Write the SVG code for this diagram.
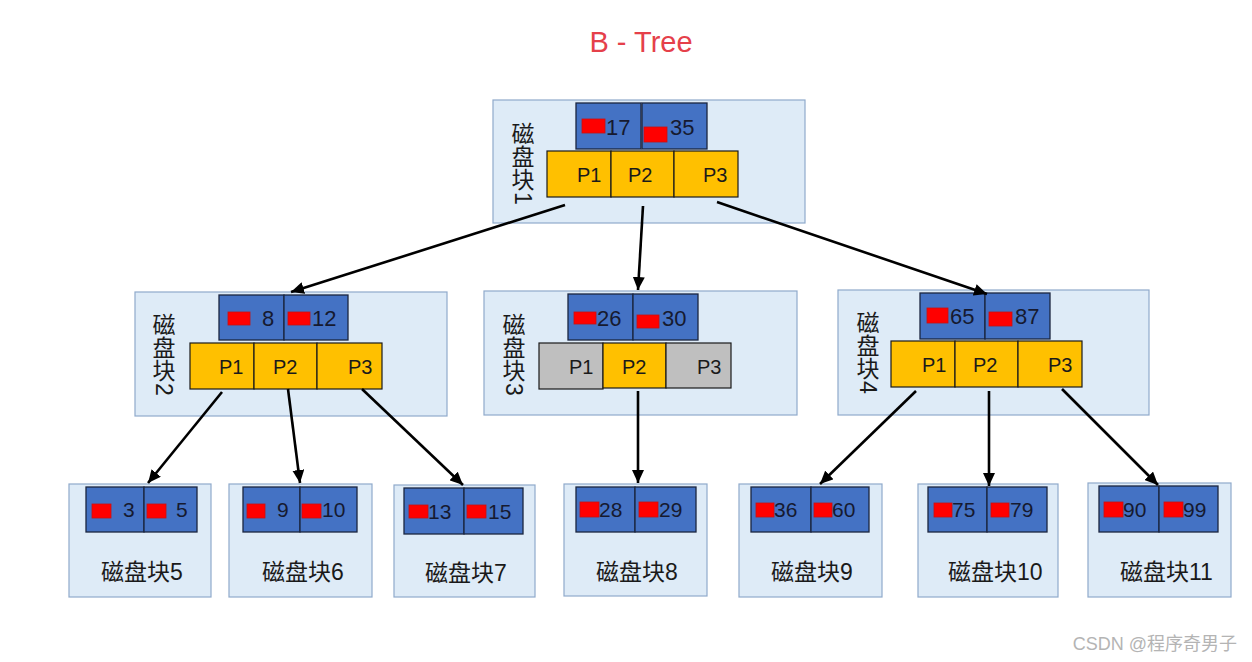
<svg xmlns="http://www.w3.org/2000/svg" width="1252" height="662" viewBox="0 0 1252 662">
<defs>
<style>
.blk{fill:#DEEBF7;stroke:#8FAACB;stroke-width:1.2}
.key{fill:#4472C4;stroke:#1B2540;stroke-width:1.3}
.ptr{fill:#FFC000;stroke:#1a1a1a;stroke-width:1.2}
.gry{fill:#BFBFBF;stroke:#1a1a1a;stroke-width:1.2}
.red{fill:#FF0000;stroke:#C81010;stroke-width:0.8}
.kt{font-family:"Liberation Sans","Noto Sans",sans-serif;font-size:22px;fill:#161a30}
.lt{font-family:"Liberation Sans","Noto Sans",sans-serif;font-size:21px;fill:#161a30}
.pt{font-family:"Liberation Sans","Noto Sans",sans-serif;font-size:20px;fill:#1a1a1a}
.lab{font-family:"Liberation Sans","Noto Sans CJK SC",sans-serif;font-size:23px;fill:#1a1a1a}
.vc{font-family:"Noto Sans CJK SC",sans-serif;font-size:23px;fill:#1a1a1a;writing-mode:vertical-rl}
.vd{font-family:"Liberation Sans",sans-serif;font-size:23px;fill:#1a1a1a;dominant-baseline:central}
.con{stroke:#000;stroke-width:2.6;fill:none;marker-end:url(#ah)}
</style>
<marker id="ah" markerUnits="userSpaceOnUse" markerWidth="14" markerHeight="12" viewBox="0 0 14 12" refX="13" refY="6" orient="auto">
<path d="M0,0 L13,6 L0,12 Z" fill="#000"/>
</marker>
</defs>
<rect width="1252" height="662" fill="#fff"/>
<text x="641" y="52" text-anchor="middle" font-family="Liberation Sans,Noto Sans,sans-serif" font-size="29" fill="#E5404A">B - Tree</text>

<g id="node1">
<rect class="blk" x="493" y="100" width="312" height="123"/>
<text class="vc" x="523" y="122">磁盘块</text>
<text class="vd" transform="translate(523,192) rotate(90)">1</text>
<rect class="key" x="576" y="103" width="65" height="46"/>
<rect class="key" x="642" y="103" width="65" height="46"/>
<rect class="red" x="582" y="119" width="23" height="14"/>
<rect class="red" x="644" y="127" width="23" height="15"/>
<text class="kt" x="606" y="135">17</text>
<text class="kt" x="670" y="135">35</text>
<rect class="ptr" x="547" y="151" width="64" height="46"/>
<rect class="ptr" x="611" y="151" width="63" height="46"/>
<rect class="ptr" x="674" y="151" width="64" height="46"/>
<text class="pt" x="577" y="182">P1</text>
<text class="pt" x="628" y="182">P2</text>
<text class="pt" x="703" y="182">P3</text>
</g>

<g id="node2">
<rect class="blk" x="135" y="292" width="312" height="124"/>
<text class="vc" x="164" y="313">磁盘块</text>
<text class="vd" transform="translate(164,383) rotate(90)">2</text>
<rect class="key" x="219" y="295" width="65" height="45"/>
<rect class="key" x="284" y="295" width="64" height="45"/>
<rect class="red" x="228" y="312" width="22" height="13"/>
<rect class="red" x="288" y="312" width="22" height="13"/>
<text class="kt" x="262" y="326">8</text>
<text class="kt" x="312" y="326">12</text>
<rect class="ptr" x="190" y="343" width="64" height="46"/>
<rect class="ptr" x="254" y="343" width="63" height="46"/>
<rect class="ptr" x="317" y="343" width="65" height="46"/>
<text class="pt" x="219" y="374">P1</text>
<text class="pt" x="273" y="374">P2</text>
<text class="pt" x="348" y="374">P3</text>
</g>

<g id="node3">
<rect class="blk" x="484" y="291" width="313" height="124"/>
<text class="vc" x="514" y="313">磁盘块</text>
<text class="vd" transform="translate(514,383) rotate(90)">3</text>
<rect class="key" x="568" y="294" width="65" height="46"/>
<rect class="key" x="633" y="294" width="65" height="46"/>
<rect class="red" x="574" y="312" width="22" height="12"/>
<rect class="red" x="637" y="315" width="22" height="13"/>
<text class="kt" x="597" y="326">26</text>
<text class="kt" x="662" y="326">30</text>
<rect class="gry" x="539" y="343" width="64" height="46"/>
<rect class="ptr" x="603" y="343" width="63" height="45"/>
<rect class="gry" x="666" y="343" width="65" height="45"/>
<text class="pt" x="569" y="374">P1</text>
<text class="pt" x="622" y="374">P2</text>
<text class="pt" x="697" y="374">P3</text>
</g>

<g id="node4">
<rect class="blk" x="838" y="290" width="311" height="125"/>
<text class="vc" x="868" y="311">磁盘块</text>
<text class="vd" transform="translate(868,381) rotate(90)">4</text>
<rect class="key" x="920" y="293" width="65" height="46"/>
<rect class="key" x="985" y="293" width="65" height="46"/>
<rect class="red" x="927" y="308" width="21" height="15"/>
<rect class="red" x="989" y="312" width="23" height="14"/>
<text class="kt" x="950" y="324">65</text>
<text class="kt" x="1015" y="324">87</text>
<rect class="ptr" x="891" y="341" width="64" height="46"/>
<rect class="ptr" x="955" y="341" width="63" height="46"/>
<rect class="ptr" x="1018" y="341" width="64" height="46"/>
<text class="pt" x="922" y="372">P1</text>
<text class="pt" x="973" y="372">P2</text>
<text class="pt" x="1048" y="372">P3</text>
</g>

<g id="node5">
<rect class="blk" x="69" y="484" width="142" height="113"/>
<rect class="key" x="86" y="487" width="58" height="45"/>
<rect class="key" x="144" y="487" width="53" height="45"/>
<rect class="red" x="92" y="504" width="19" height="14"/>
<rect class="red" x="147" y="504" width="19" height="14"/>
<text class="lt" x="123" y="517">3</text>
<text class="lt" x="176" y="517">5</text>
<text class="lab" x="101" y="580">磁盘块5</text>
</g>

<g id="node6">
<rect class="blk" x="229" y="484" width="143" height="113"/>
<rect class="key" x="243" y="487" width="57" height="45"/>
<rect class="key" x="300" y="487" width="57" height="45"/>
<rect class="red" x="247" y="504" width="18" height="14"/>
<rect class="red" x="302" y="504" width="19" height="14"/>
<text class="lt" x="277" y="517">9</text>
<text class="lt" x="322" y="517">10</text>
<text class="lab" x="262" y="580">磁盘块6</text>
</g>

<g id="node7">
<rect class="blk" x="394" y="485" width="141" height="112"/>
<rect class="key" x="404" y="488" width="60" height="46"/>
<rect class="key" x="464" y="488" width="59" height="46"/>
<rect class="red" x="409" y="505" width="19" height="13"/>
<rect class="red" x="467" y="505" width="19" height="13"/>
<text class="lt" x="428" y="519">13</text>
<text class="lt" x="488" y="519">15</text>
<text class="lab" x="425" y="581">磁盘块7</text>
</g>

<g id="node8">
<rect class="blk" x="564" y="484" width="143" height="112"/>
<rect class="key" x="576" y="487" width="59" height="45"/>
<rect class="key" x="635" y="487" width="61" height="45"/>
<rect class="red" x="580" y="502" width="19" height="15"/>
<rect class="red" x="639" y="502" width="19" height="15"/>
<text class="lt" x="599" y="517">28</text>
<text class="lt" x="659" y="517">29</text>
<text class="lab" x="596" y="580">磁盘块8</text>
</g>

<g id="node9">
<rect class="blk" x="739" y="484" width="143" height="113"/>
<rect class="key" x="751" y="487" width="60" height="45"/>
<rect class="key" x="811" y="487" width="58" height="45"/>
<rect class="red" x="756" y="503" width="18" height="14"/>
<rect class="red" x="814" y="503" width="18" height="14"/>
<text class="lt" x="774" y="517">36</text>
<text class="lt" x="832" y="517">60</text>
<text class="lab" x="771" y="580">磁盘块9</text>
</g>

<g id="node10">
<rect class="blk" x="918" y="484" width="140" height="113"/>
<rect class="key" x="928" y="487" width="59" height="45"/>
<rect class="key" x="987" y="487" width="60" height="45"/>
<rect class="red" x="934" y="503" width="18" height="14"/>
<rect class="red" x="991" y="503" width="18" height="14"/>
<text class="lt" x="952" y="517">75</text>
<text class="lt" x="1010" y="517">79</text>
<text class="lab" x="948" y="580">磁盘块10</text>
</g>

<g id="node11">
<rect class="blk" x="1088" y="483" width="143" height="114"/>
<rect class="key" x="1099" y="486" width="60" height="46"/>
<rect class="key" x="1159" y="486" width="59" height="46"/>
<rect class="red" x="1104" y="502" width="19" height="15"/>
<rect class="red" x="1164" y="502" width="19" height="15"/>
<text class="lt" x="1123" y="517">90</text>
<text class="lt" x="1183" y="517">99</text>
<text class="lab" x="1120" y="580">磁盘块11</text>
</g>

<g id="connectors">
<line class="con" x1="565" y1="205" x2="291" y2="292"/>
<line class="con" x1="643" y1="206" x2="638" y2="290"/>
<line class="con" x1="717" y1="202" x2="987" y2="294"/>
<line class="con" x1="222" y1="392" x2="148" y2="483"/>
<line class="con" x1="288" y1="389" x2="300" y2="483"/>
<line class="con" x1="362" y1="389" x2="463" y2="485"/>
<line class="con" x1="638" y1="391" x2="638" y2="483"/>
<line class="con" x1="916" y1="391" x2="820" y2="484"/>
<line class="con" x1="989" y1="391" x2="989" y2="486"/>
<line class="con" x1="1062" y1="389" x2="1158" y2="485"/>
</g>

<text x="1237" y="650" text-anchor="end" font-family="Liberation Sans,Noto Sans CJK SC,sans-serif" font-size="18" fill="#B4B4B4">CSDN @程序奇男子</text>
</svg>
